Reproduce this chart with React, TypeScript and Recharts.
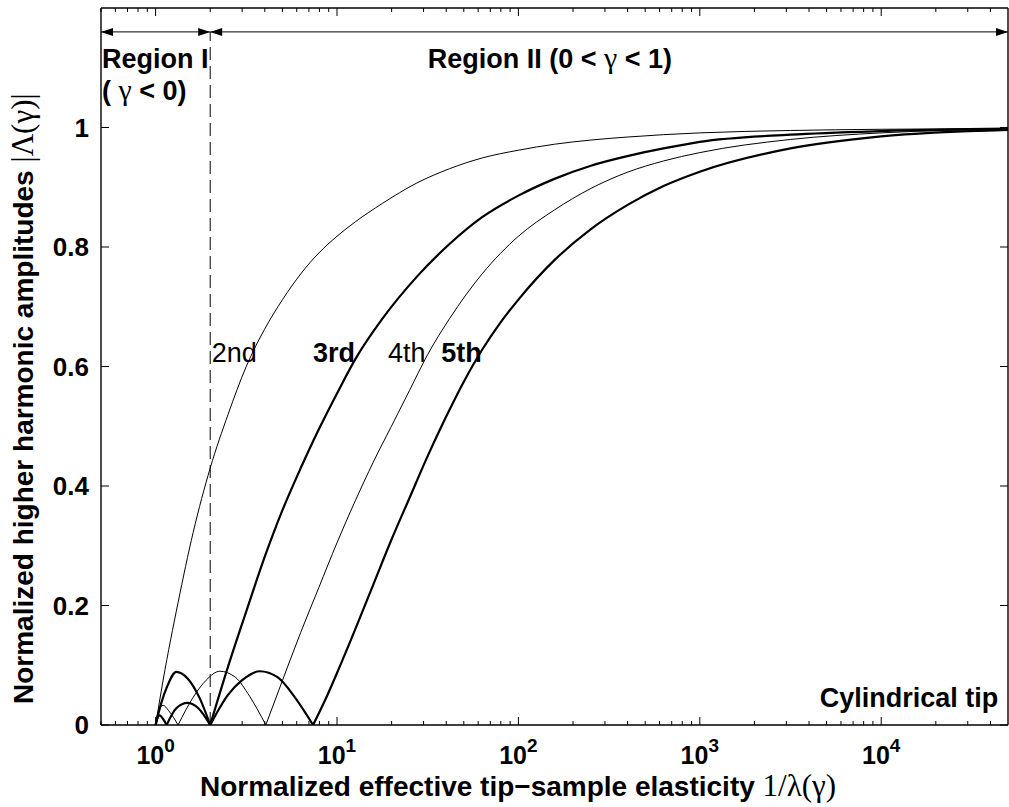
import React from "react";
import { LineChart, Line, XAxis, YAxis, ReferenceLine, ReferenceDot } from "recharts";

// x = 1/lambda(gamma), y = |Lambda(gamma)| ; each harmonic split at its zeros
const x2nd = [1, 1.1, 1.33, 1.61, 2, 2.51, 3.16, 3.98, 5.01, 6.31, 7.94, 10, 12.6, 17.8, 27.5, 41.7, 63.1, 100, 158, 251, 398, 631, 1000, 3162, 10000, 50000];
const y2nd = [0, 0.075, 0.205, 0.322, 0.43, 0.52, 0.6, 0.662, 0.712, 0.755, 0.79, 0.818, 0.842, 0.873, 0.907, 0.931, 0.949, 0.962, 0.972, 0.979, 0.984, 0.988, 0.991, 0.995, 0.997, 0.998];

const x3rdA = [1, 1.07, 1.16, 1.3, 1.5, 1.75, 2];
const y3rdA = [0, 0.035, 0.065, 0.089, 0.078, 0.045, 0];
const x3rdB = [2, 2.51, 3.16, 3.98, 5.01, 6.31, 7.94, 10, 12.6, 17.8, 27.5, 41.7, 63.1, 100, 158, 251, 398, 631, 1000, 3162, 10000, 50000];
const y3rdB = [0, 0.098, 0.19, 0.28, 0.36, 0.43, 0.495, 0.555, 0.612, 0.68, 0.75, 0.805, 0.85, 0.886, 0.914, 0.936, 0.952, 0.965, 0.976, 0.988, 0.994, 0.998];

const x4thA = [1, 1.04, 1.1, 1.18, 1.33];
const y4thA = [0, 0.024, 0.033, 0.024, 0];
const x4thB = [1.33, 1.6, 1.9, 2.26, 2.75, 3.3, 4.05];
const y4thB = [0, 0.045, 0.075, 0.09, 0.08, 0.048, 0];
const x4thC = [4.05, 5.01, 6.31, 7.94, 10, 12.6, 15.85, 19.95, 25.1, 31.6, 41.7, 63.1, 100, 158, 251, 398, 631, 1000, 3162, 10000, 50000];
const y4thC = [0, 0.075, 0.155, 0.23, 0.305, 0.375, 0.44, 0.5, 0.56, 0.62, 0.68, 0.755, 0.818, 0.862, 0.898, 0.925, 0.944, 0.958, 0.98, 0.991, 0.997];

const x5thA = [1, 1.025, 1.05, 1.1, 1.15];
const y5thA = [0, 0.012, 0.016, 0.01, 0];
const x5thB = [1.15, 1.3, 1.5, 1.72, 2];
const y5thB = [0, 0.028, 0.037, 0.028, 0];
const x5thC = [2, 2.5, 3, 3.75, 4.7, 5.9, 7.38];
const y5thC = [0, 0.05, 0.075, 0.09, 0.08, 0.045, 0];
const x5thD = [7.38, 8.91, 10, 12.6, 15.85, 19.95, 25.1, 31.6, 39.8, 50.1, 63.1, 79.4, 100, 158, 251, 398, 631, 1000, 3162, 10000, 50000];
const y5thD = [0, 0.052, 0.087, 0.16, 0.235, 0.31, 0.38, 0.45, 0.515, 0.575, 0.628, 0.673, 0.712, 0.778, 0.83, 0.87, 0.902, 0.926, 0.965, 0.985, 0.996];

const majorX = [1, 10, 100, 1000, 10000];
const majorExp = ["0", "1", "2", "3", "4"];
const minorX = [
  0.5, 0.6, 0.7, 0.8, 0.9,
  2, 3, 4, 5, 6, 7, 8, 9,
  20, 30, 40, 50, 60, 70, 80, 90,
  200, 300, 400, 500, 600, 700, 800, 900,
  2000, 3000, 4000, 5000, 6000, 7000, 8000, 9000,
  20000, 30000, 40000,
];
const yTicks = [0, 0.2, 0.4, 0.6, 0.8, 1];

const SANS = "'Liberation Sans', Arial, Helvetica, sans-serif";
const SERIF = "'Liberation Serif', 'Times New Roman', 'DejaVu Serif', serif";

const pts = (xs: number[], ys: number[]) => xs.map((x, i) => ({ x, y: ys[i] }));

const thin = [pts(x2nd, y2nd), pts(x4thA, y4thA), pts(x4thB, y4thB), pts(x4thC, y4thC)];
const thick = [
  pts(x3rdA, y3rdA), pts(x3rdB, y3rdB),
  pts(x5thA, y5thA), pts(x5thB, y5thB), pts(x5thC, y5thC), pts(x5thD, y5thD),
];

const allX = [...majorX, ...minorX].sort((a, b) => a - b);

const BottomTick = ({ x, y, payload }: any) => {
  const i = majorX.indexOf(payload.value);
  return (
    <g>
      <line x1={x} x2={x} y1={y} y2={y - (i >= 0 ? 8 : 4)} stroke="#000" strokeWidth={1} />
      {i >= 0 && (
        <text x={x} y={y + 39} textAnchor="middle" fontFamily={SANS} fontWeight="bold" fontSize={25} fill="#000">
          <tspan>10</tspan>
          <tspan dy={-12} fontSize={19}>{majorExp[i]}</tspan>
        </text>
      )}
    </g>
  );
};

const TopTick = ({ x, y, payload }: any) => {
  const major = majorX.includes(payload.value);
  return <line x1={x} x2={x} y1={y} y2={y + (major ? 8 : 4)} stroke="#000" strokeWidth={1} />;
};

const LeftTick = ({ x, y, payload }: any) => {
  const v = payload.value;
  const label = v === 0 ? "0" : v === 1 ? "1" : v.toFixed(1);
  return (
    <g>
      <line x1={x} x2={x + 8} y1={y} y2={y} stroke="#000" strokeWidth={1} />
      <text x={x - 12} y={y + 9} textAnchor="end" fontFamily={SANS} fontWeight="bold" fontSize={26} fill="#000">
        {label}
      </text>
    </g>
  );
};

const RightTick = ({ x, y }: any) => (
  <line x1={x} x2={x - 8} y1={y} y2={y} stroke="#000" strokeWidth={1} />
);

const RegionArrow = ({ x1, y1, x2, y2 }: any) => (
  <g>
    <line x1={x1} y1={y1} x2={x2} y2={y2} stroke="#000" strokeWidth={1} />
    <polygon points={`${x1},${y1} ${x1 + 12},${y1 - 4} ${x1 + 12},${y1 + 4}`} fill="#000" />
    <polygon points={`${x2},${y2} ${x2 - 12},${y2 - 4} ${x2 - 12},${y2 + 4}`} fill="#000" />
  </g>
);

const textAt = (content: React.ReactNode, opts: any = {}) => (p: any) => (
  <text x={p.cx} y={p.cy} fontFamily={SANS} fontSize={27} fill="#000" {...opts}>
    {content}
  </text>
);

const gamma = <tspan fontFamily={SERIF} fontWeight="normal" fontSize={30}>γ</tspan>;
const frame = { stroke: "#000", strokeWidth: 1.4 };

export default function App() {
  return (
    <div style={{ position: "absolute", left: 0, top: 0, width: 1009, height: 807, background: "#fff" }}>
      <LineChart width={1009} height={807} margin={{ top: 7, right: 0, bottom: 81, left: 100 }}>
        <XAxis
          dataKey="x" type="number" scale="log" domain={[0.5, 50000]} allowDataOverflow
          ticks={allX} interval={0} height={1} tickSize={0} tickMargin={0} tickLine={false}
          tick={BottomTick} axisLine={frame}
        />
        <XAxis
          xAxisId="top" orientation="top" dataKey="x" type="number" scale="log" domain={[0.5, 50000]} allowDataOverflow
          ticks={allX} interval={0} height={1} tickSize={0} tickMargin={0} tickLine={false}
          tick={TopTick} axisLine={frame}
        />
        <YAxis
          type="number" domain={[0, 1.2]} allowDataOverflow ticks={yTicks} interval={0} width={1}
          tickSize={0} tickMargin={0} tickLine={false} tick={LeftTick} axisLine={frame}
        />
        <YAxis
          yAxisId="right" orientation="right" type="number" domain={[0, 1.2]} allowDataOverflow ticks={yTicks}
          interval={0} width={1} tickSize={0} tickMargin={0} tickLine={false} tick={RightTick} axisLine={frame}
        />

        <ReferenceLine
          segment={[{ x: 2, y: 0 }, { x: 2, y: 1.16 }]} stroke="#000" strokeWidth={1}
          strokeDasharray="13 6" ifOverflow="visible"
        />
        <ReferenceLine segment={[{ x: 0.5, y: 1.16 }, { x: 2, y: 1.16 }]} shape={RegionArrow} ifOverflow="visible" />
        <ReferenceLine segment={[{ x: 2, y: 1.16 }, { x: 50000, y: 1.16 }]} shape={RegionArrow} ifOverflow="visible" />

        {thin.map((d, i) => (
          <Line key={"t" + i} data={d} dataKey="y" type="monotone" stroke="#000" strokeWidth={1}
            dot={false} activeDot={false} isAnimationActive={false} />
        ))}
        {thick.map((d, i) => (
          <Line key={"k" + i} data={d} dataKey="y" type="monotone" stroke="#000" strokeWidth={2.2}
            dot={false} activeDot={false} isAnimationActive={false} />
        ))}

        <ReferenceDot x={0.5} y={1.1} r={0} ifOverflow="visible" shape={textAt("Region I", { fontWeight: "bold", dx: 1 })} />
        <ReferenceDot x={0.5} y={1.046} r={0} ifOverflow="visible"
          shape={textAt(<>( {gamma} &lt; 0)</>, { fontWeight: "bold", dx: 1 })} />
        <ReferenceDot x={31.6} y={1.1} r={0} ifOverflow="visible"
          shape={textAt(<>Region II (0 &lt; {gamma} &lt; 1)</>, { fontWeight: "bold" })} />
        <ReferenceDot x={2.04} y={0.608} r={0} ifOverflow="visible" shape={textAt("2nd")} />
        <ReferenceDot x={7.38} y={0.608} r={0} ifOverflow="visible" shape={textAt("3rd", { fontWeight: "bold" })} />
        <ReferenceDot x={19.1} y={0.608} r={0} ifOverflow="visible" shape={textAt("4th")} />
        <ReferenceDot x={37.6} y={0.608} r={0} ifOverflow="visible" shape={textAt("5th", { fontWeight: "bold" })} />
        <ReferenceDot x={44200} y={0.03} r={0} ifOverflow="visible"
          shape={textAt("Cylindrical tip", { fontWeight: "bold", textAnchor: "end" })} />
      </LineChart>

      <svg width={1009} height={807} style={{ position: "absolute", left: 0, top: 0, pointerEvents: "none" }}>
        <text x={200} y={796} fontFamily={SANS} fontWeight="bold" fontSize={28} fill="#000">
          Normalized effective tip−sample elasticity{" "}
          <tspan fontFamily={SERIF} fontWeight="normal" fontSize={31}>1/λ(γ)</tspan>
        </text>
        <text transform="rotate(-90)" x={-704} y={33} fontFamily={SANS} fontWeight="bold" fontSize={28} fill="#000">
          Normalized higher harmonic amplitudes{"  "}
          <tspan fontFamily={SERIF} fontWeight="normal" fontSize={31}>|Λ(γ)|</tspan>
        </text>
      </svg>
    </div>
  );
}
